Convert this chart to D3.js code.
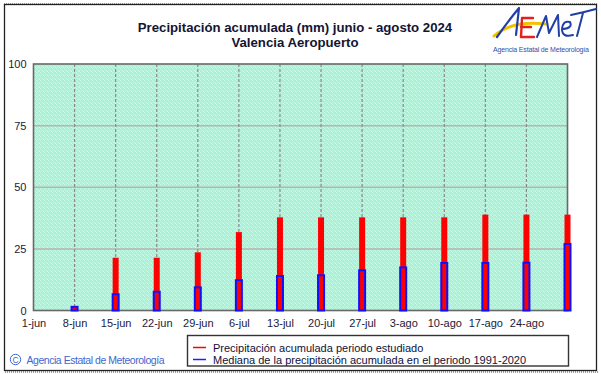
<!DOCTYPE html>
<html>
<head>
<meta charset="utf-8">
<script src="https://cdn.jsdelivr.net/npm/d3@7"></script>
<style>
  body { margin: 0; background: #fff; }
  svg { display: block; font-family: "Liberation Sans", Arial, sans-serif; }
  .axis text { font-size: 11px; fill: #1a1a3a; }
  .axis path { display: none; }
</style>
</head>
<body>
<script>
// datos (mm)
var etiquetas_x = ["1-jun", "8-jun", "15-jun", "22-jun", "29-jun", "6-jul", "13-jul",
  "20-jul", "27-jul", "3-ago", "10-ago", "17-ago", "24-ago"];
var dias_etiquetas = [0, 7, 14, 21, 28, 35, 42, 49, 56, 63, 70, 77, 84];
var dias = [0, 7, 14, 21, 28, 35, 42, 49, 56, 63, 70, 77, 84, 91];
var precipitacion = [0, 0, 21.4, 21.4, 23.6, 31.8, 37.8, 37.8, 37.8, 37.8, 37.8, 38.9, 38.9, 38.9];
var mediana = [0, 1.9, 7.0, 8.0, 9.8, 12.7, 14.4, 14.7, 16.7, 17.9, 19.7, 19.7, 19.8, 27.4];
var ticks_y = [0, 25, 50, 75, 100];
var titulo = ["Precipitación acumulada (mm) junio - agosto 2024", "Valencia Aeropuerto"];
var leyenda = ["Precipitación acumulada periodo estudiado",
  "Mediana de la precipitación acumulada en el periodo 1991-2020"];

class GraficoPrecipitacion
{
  constructor(config) {
    this.config = config;
    this.svg = d3.select("body").append("svg")
      .attr("width", config.width)
      .attr("height", config.height);
    this.xScale = d3.scaleLinear().domain([0, 91]).range([config.left, config.right]);
    this.yScale = d3.scaleLinear().domain([0, 100]).range([config.bottom, config.top]);
  }

  draw() {
    this.draw_frame();
    this.draw_plot_area();
    this.draw_bars();
    this.draw_texts();
    this.draw_logo();
  }

  draw_frame() {
    var c = this.config;
    this.svg.append("rect").attr("width", c.width).attr("height", c.height).attr("fill", "#fff");
    // sombra gris del marco
    this.svg.append("line").attr("x1", 5).attr("x2", 598).attr("y1", 372).attr("y2", 372)
      .attr("stroke", "#a0a0a0").attr("stroke-width", 2).attr("stroke-dasharray", "1,1");
    this.svg.append("line").attr("x1", 4).attr("x2", 597).attr("y1", 3.5).attr("y2", 3.5)
      .attr("stroke", "#a0a0a0").attr("stroke-width", 1).attr("stroke-dasharray", "1,1");
    this.svg.append("rect")
      .attr("x", 4.5).attr("y", 4.5).attr("width", 592).attr("height", 366)
      .attr("fill", "none").attr("stroke", "#222").attr("stroke-width", 1.3);
  }

  draw_plot_area() {
    var c = this.config;
    var x = this.xScale, y = this.yScale;

    // fondo punteado verde
    var pat = this.svg.append("defs").append("pattern")
      .attr("id", "fondo").attr("width", 4).attr("height", 4)
      .attr("patternUnits", "userSpaceOnUse");
    pat.append("rect").attr("width", 4).attr("height", 4).attr("fill", "#aef2da");
    var puntos = [[0, 0, "#c8f8ea"], [2, 1, "#a4ece6"], [1, 2, "#bcf6d0"], [3, 3, "#d2faf2"],
      [3, 0, "#a0f0d0"], [0, 3, "#aae6ec"], [2, 2, "#c4f8dc"]];
    puntos.forEach((p) => {
      pat.append("rect").attr("x", p[0]).attr("y", p[1]).attr("width", 1).attr("height", 1).attr("fill", p[2]);
    });

    this.svg.append("rect")
      .attr("x", c.left).attr("y", c.top)
      .attr("width", c.right - c.left).attr("height", c.bottom - c.top)
      .attr("fill", "url(#fondo)");

    this.svg.append("g").selectAll("line")
      .data(ticks_y.filter((d) => d > 0 && d < 100))
      .join("line")
      .attr("x1", c.left).attr("x2", c.right)
      .attr("y1", (d) => y(d)).attr("y2", (d) => y(d))
      .attr("stroke", "#b4b4b4").attr("stroke-width", 1.5);

    this.svg.append("g").selectAll("line")
      .data(dias_etiquetas.filter((d) => d > 0))
      .join("line")
      .attr("x1", (d) => x(d)).attr("x2", (d) => x(d))
      .attr("y1", c.top).attr("y2", c.bottom)
      .attr("stroke", "#8a8a8a").attr("stroke-width", 1.2)
      .attr("stroke-dasharray", "3,2");

    this.svg.append("rect")
      .attr("x", c.left).attr("y", c.top)
      .attr("width", c.right - c.left).attr("height", c.bottom - c.top)
      .attr("fill", "none").attr("stroke", "#686868").attr("stroke-width", 1.6);

    var xAxis = d3.axisBottom(x)
      .tickValues(dias_etiquetas)
      .tickFormat((d, i) => etiquetas_x[i])
      .tickSize(0)
      .tickPadding(9);

    this.svg.append("g")
      .attr("class", "x axis")
      .attr("transform", "translate(0," + c.bottom + ")")
      .call(xAxis);

    var yAxis = d3.axisLeft(y)
      .tickValues(ticks_y)
      .tickSize(0)
      .tickPadding(7);

    this.svg.append("g")
      .attr("class", "y axis")
      .attr("transform", "translate(" + c.left + ",0)")
      .call(yAxis);
  }

  draw_bars() {
    var x = this.xScale, y = this.yScale;
    var datos = dias.map((d, i) => ({ dia: d, prec: precipitacion[i], med: mediana[i] }));

    this.svg.append("g").selectAll("rect")
      .data(datos.filter((d) => d.prec > 0))
      .join("rect")
      .attr("x", (d) => x(d.dia) - 3)
      .attr("width", 6)
      .attr("y", (d) => y(d.prec))
      .attr("height", (d) => y(0) - y(d.prec))
      .attr("fill", "#ff0000");

    this.svg.append("g").selectAll("rect")
      .data(datos.filter((d) => d.med > 0))
      .join("rect")
      .attr("x", (d) => x(d.dia) - 3)
      .attr("width", 6)
      .attr("y", (d) => y(d.med) + 1)
      .attr("height", (d) => y(0) - y(d.med) - 1)
      .attr("fill", "#ff0000")
      .attr("stroke", "#1010ff")
      .attr("stroke-width", 2);
  }

  draw_texts() {
    this.svg.append("g").selectAll("text")
      .data(titulo)
      .join("text")
      .attr("x", 295).attr("y", (d, i) => 32 + i * 15)
      .attr("text-anchor", "middle")
      .attr("font-size", 13.2).attr("font-weight", "bold")
      .attr("fill", "#141433")
      .text((d) => d);

    var ley = this.svg.append("g");
    ley.append("rect")
      .attr("x", 187.5).attr("y", 335.5).attr("width", 381).attr("height", 30.5)
      .attr("fill", "#fff").attr("stroke", "#333").attr("stroke-width", 1.4);
    var colores = ["#ff0000", "#2020ff"];
    leyenda.forEach((t, i) => {
      ley.append("line")
        .attr("x1", 193).attr("x2", 206)
        .attr("y1", 347.5 + i * 12).attr("y2", 347.5 + i * 12)
        .attr("stroke", colores[i]).attr("stroke-width", 1.5);
      ley.append("text")
        .attr("x", 213).attr("y", 351.5 + i * 12)
        .attr("font-size", 11).attr("fill", "#10103a")
        .text(t);
    });

    var cop = this.svg.append("g").attr("fill", "#3f66d0");
    cop.append("circle").attr("cx", 15.5).attr("cy", 359.5).attr("r", 5.2)
      .attr("fill", "none").attr("stroke", "#3f66d0").attr("stroke-width", 1);
    cop.append("text").attr("x", 15.5).attr("y", 363).attr("text-anchor", "middle")
      .attr("font-size", 8.5).text("C");
    cop.append("text").attr("x", 26.5).attr("y", 363.5)
      .attr("font-size", 10.5).attr("textLength", 138)
      .text("Agencia Estatal de Meteorología");
  }

  draw_logo() {
    var g = this.svg.append("g").attr("fill", "none").attr("stroke-linecap", "round").attr("stroke-linejoin", "round");
    g.append("path").attr("d", "M494,36 Q512,20 546,24")
      .attr("stroke", "#f2c200").attr("stroke-width", 3);
    g.append("path").attr("d", "M497,37 Q509,20 519,8 L516,35")
      .attr("stroke", "#2040a8").attr("stroke-width", 2.2);
    g.append("path").attr("d", "M533,18 L522,18 L521,37 L534,37 M521,27 L531,27")
      .attr("stroke", "#e52020").attr("stroke-width", 2.4);
    g.append("path").attr("d", "M537,37 L546,16 L549,33 L558,15 L559,36")
      .attr("stroke", "#2040a8").attr("stroke-width", 2);
    g.append("path").attr("d", "M563,29 Q573,28 570,22 Q563,20 562,29 Q562,38 573,35")
      .attr("stroke", "#2040a8").attr("stroke-width", 2);
    g.append("path").attr("d", "M583,13 L577,36 M571,15 Q585,12 596,9")
      .attr("stroke", "#2040a8").attr("stroke-width", 2);
    this.svg.append("text")
      .attr("x", 493).attr("y", 51.5)
      .attr("font-size", 7).attr("textLength", 96)
      .attr("fill", "#3050a8")
      .text("Agencia Estatal de Meteorología");
  }
}

var grafico = new GraficoPrecipitacion({ width: 601, height: 374, left: 33.5, right: 567.5, top: 64, bottom: 310.5 });
grafico.draw();
</script>
</body>
</html>
